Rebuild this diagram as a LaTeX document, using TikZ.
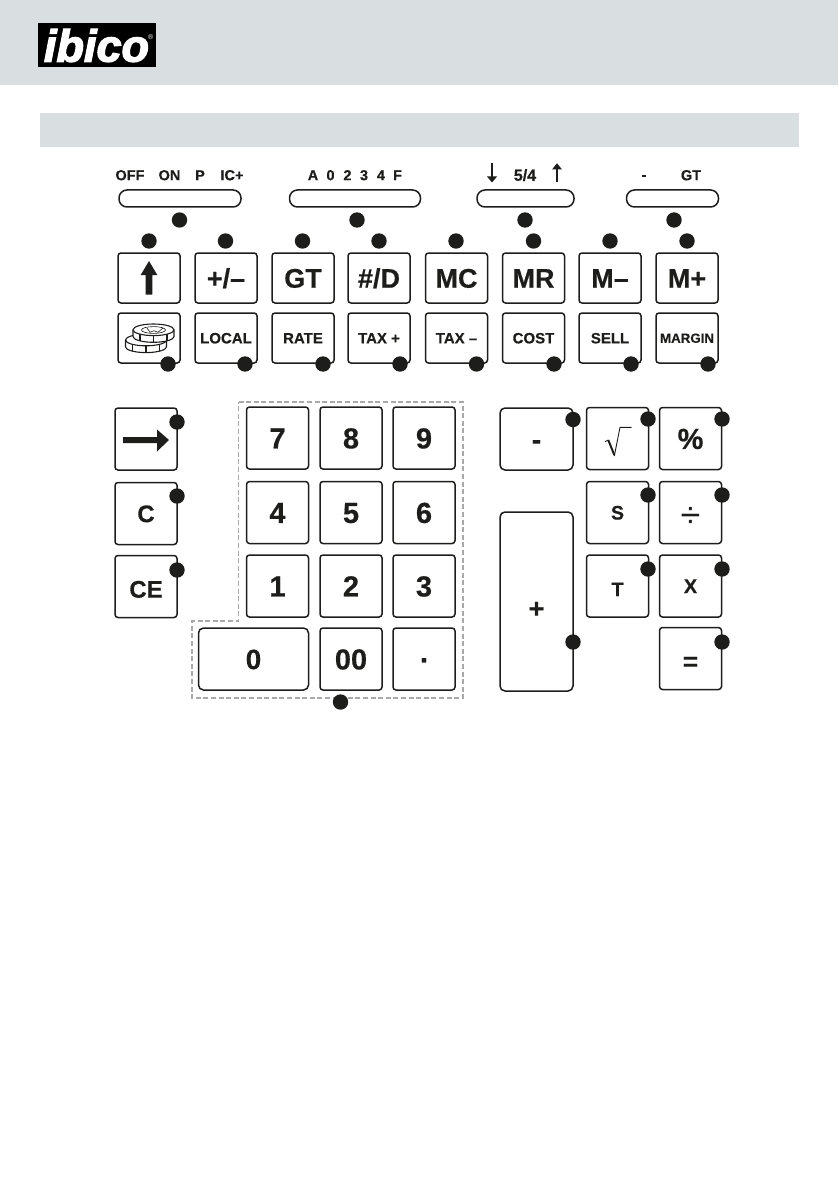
\documentclass[tikz,border=0pt]{standalone}
\usepackage{fontspec}
\setmainfont{Liberation Sans}[BoldFeatures={FakeBold=0.4}]
\newfontfamily\logofont[FakeBold=3]{Liberation Sans Bold Italic}
\definecolor{panelgray}{HTML}{D9DFE0}
\definecolor{inkblack}{HTML}{1D1D1B}
\definecolor{dashgray}{HTML}{A9A9A9}
\newcommand{\sized}[1]{\fontsize{#1}{#1}\selectfont\bfseries}
\newcommand{\lowered}[2]{\raisebox{-#1pt}{#2}}
\tikzset{
  keyfont/.style={font=\sized{#1}, text height=#1*0.72pt, text depth=0pt},
  keybox/.style={draw=inkblack, line width=1.5pt, rounded corners=3pt, inner sep=0pt,
    minimum width=62pt, minimum height=62pt, text=inkblack},
  topkey/.style={keybox, minimum height=50pt, keyfont=27},
  lowkey/.style={keybox, minimum height=50pt, keyfont=15},
  padkey/.style={keybox, keyfont=29},
  sidekey/.style={keybox, keyfont=20},
  slider/.style={draw=inkblack, line width=1.5pt, rounded corners=8pt, inner sep=0pt, minimum height=17pt},
  switchtext/.style={text=inkblack, inner sep=0pt, keyfont=14.5},
  dotmark/.style={circle, fill=inkblack, inner sep=0pt, minimum size=15.4pt},
  coin/.style={draw=inkblack, line width=1.1pt, fill=white}
}
\begin{document}
\begin{tikzpicture}[x=1pt, y=-1pt]
  \useasboundingbox (0,0) rectangle (838,1190);
  \fill[panelgray] (0,0) rectangle (838,85);
  \fill[panelgray] (40,113) rectangle (799,147);
  \fill[black] (38,23) rectangle (156,67);
  \node[text=white, inner sep=0pt, font=\logofont\fontsize{45}{45}\selectfont] (logo) at (96.5,45.5) {ibico};
  \node[text=white, inner sep=0pt, font=\fontsize{7}{7}\selectfont] (logomark) at (150.7,36.7) {®};

  \node[slider, minimum width=122pt] (sliderpower) at (180,198.5) {};
  \node[slider, minimum width=131pt] (sliderdecimal) at (355,198.5) {};
  \node[slider, minimum width=97pt] (sliderround) at (525.5,198.5) {};
  \node[slider, minimum width=92pt] (slidergt) at (672.5,198.5) {};

  \foreach \x/\name/\txt in {130/off/OFF, 169.5/on/ON, 200/p/P, 232/ic/IC+, 313/a/A, 330.5/zero/0, 347.5/two/2,
      364/three/3, 381/four/4, 397.5/f/F, 691/gt/GT}
    \node[switchtext] (sw\name) at (\x,175) {\txt};
  \node[switchtext, keyfont=16] (swround) at (525,175) {5\slash 4};
  \node[switchtext] (swminus) at (644,174.5) {-};
  \draw[inkblack, line width=2pt] (492,163.3) -- (492,177);
  \fill[inkblack] (487,176.5) -- (497,176.5) -- (492,182.5) -- cycle;
  \draw[inkblack, line width=2pt] (557,169) -- (557,182);
  \fill[inkblack] (552,169.5) -- (562,169.5) -- (557,163.3) -- cycle;

  \foreach \x/\name/\txt in {149/up/, 226/sign/{+/--}, 303/gt/GT, 379/hash/{\#/D}, 456.5/mc/MC, 533.5/mr/MR, 610/mminus/{M--}, 687/mplus/M+}
    \node[topkey] (key\name) at (\x,278) {\txt};
  \foreach \x/\name/\txt in {149/coins/, 226/local/LOCAL, 303/rate/RATE, 379/taxplus/{TAX +}, 456.5/taxminus/{TAX --}, 533.5/cost/COST, 610/sell/SELL}
    \node[lowkey] (key\name) at (\x,338) {\txt};
  \node[lowkey, keyfont=13.3] (keymargin) at (687,338) {MARGIN};

  \fill[inkblack] (149,261) -- (157.3,275) -- (152.3,275) -- (152.3,294.7) -- (145.7,294.7) -- (145.7,275) -- (140.7,275) -- cycle;

  \draw[coin] (125.5,340) -- (125.5,346.8) arc[start angle=180, end angle=0, x radius=20.5, y radius=5.8] -- (166.5,340)
    arc[start angle=0, end angle=-180, x radius=20.5, y radius=5.8] -- cycle;
  \draw[coin, fill=none] (125.5,340) arc[start angle=180, end angle=0, x radius=20.5, y radius=5.8];
  \foreach \x/\y in {132.5/344.4, 146/345.8, 159.5/344.4}
    \draw[inkblack, line width=1.1pt] (\x,\y) -- (\x,\y+6.8);
  \draw[coin] (133,329.8) -- (133,336.5) arc[start angle=180, end angle=0, x radius=20.5, y radius=5.8] -- (174,329.8)
    arc[start angle=0, end angle=-180, x radius=20.5, y radius=5.8] -- cycle;
  \draw[coin, fill=none] (133,329.8) arc[start angle=180, end angle=0, x radius=20.5, y radius=5.8];
  \foreach \x/\y in {140/334.2, 153.5/335.6, 167/334.2}
    \draw[inkblack, line width=1.1pt] (\x,\y) -- (\x,\y+6.7);
  \draw[inkblack, line width=0.6pt] (153.5,330) ellipse[x radius=12, y radius=3.4];
  \draw[inkblack, line width=0.6pt] (147,328) -- (150,332.2) -- (154,330.8) -- (158,332.2) -- (163,328);

  \draw[dashgray, line width=1.2pt, dash pattern=on 5pt off 2.6pt] (238.5,402) -- (463,402) -- (463,698) -- (192,698) -- (192,621) -- (238.5,621) -- cycle;

  \foreach \x/\y/\name/\txt in {277.5/438/seven/7, 351/438/eight/8, 424/438/nine/9,
      277.5/512.5/fourk/4, 351/512.5/five/5, 424/512.5/six/6,
      277.5/586/one/1, 351/586/twok/2, 424/586/threek/3,
      351/659/double/00}
    \node[padkey] (key\name) at (\x,\y) {\txt};
  \node[padkey] (keypoint) at (424,659) {\raisebox{7pt}{.}};
  \node[padkey, keyfont=28, minimum width=110pt, rounded corners=5pt] (keyzero) at (253.5,659) {0};

  \node[sidekey] (keyarrow) at (146,439) {};
  \node[sidekey, keyfont=24] (keyc) at (146,513.5) {C};
  \node[sidekey, keyfont=24] (keyce) at (146,586.5) {\lowered{2.5}{CE}};
  \fill[inkblack] (123,437) -- (157,437) -- (157,429.5) -- (169,440) -- (157,451.5) -- (157,443) -- (123,443) -- cycle;

  \node[padkey, minimum width=73pt, rounded corners=5pt] (keyminus) at (536.5,439) {-};
  \node[padkey, keyfont=27, minimum width=73pt, minimum height=179pt, rounded corners=5pt] (keyplus) at (536.5,601.5) {\lowered{6.5}{+}};
  \node[sidekey] (keyroot) at (617.5,438.5) {};
  \draw[inkblack, line width=0.9pt] (605,441.7) -- (608.3,440);
  \draw[inkblack, line width=2pt] (608.3,440) -- (614.3,455);
  \draw[inkblack, line width=0.9pt] (614.3,456) -- (620,427.3) -- (631.7,427.3);
  \node[padkey] (keypercent) at (690.5,438.5) {\%};
  \node[sidekey, keyfont=19.5] (keys) at (617.5,512.5) {S};
  \node[keybox, keyfont=36, font=\fontsize{36}{36}\selectfont] (keydivide) at (690.5,512.5) {\lowered{2.5}{÷}};
  \node[sidekey, keyfont=19.5] (keyt) at (617.5,586) {\lowered{3}{T}};
  \node[sidekey] (keyx) at (690.5,586) {X};
  \node[padkey, keyfont=26] (keyequal) at (690.5,658.5) {\lowered{2.5}{=}};

  \foreach \x/\y [count=\i] in {179.5/220, 357/220, 525/220, 674/220,
      149/241, 225.5/241, 302.5/241, 379/241, 456/241, 533.5/241, 610/241, 687/241,
      168/364, 245/364, 323/364, 400/364, 476.5/364, 554/364, 631/364, 708/364,
      177/422, 177/496, 177/570, 340.5/702,
      573/419.5, 648/419, 722/419, 648/495, 722/495, 648/569, 722/569, 573/642, 722/642}
    \node[dotmark] (dot\i) at (\x,\y) {};
\end{tikzpicture}
\end{document}
